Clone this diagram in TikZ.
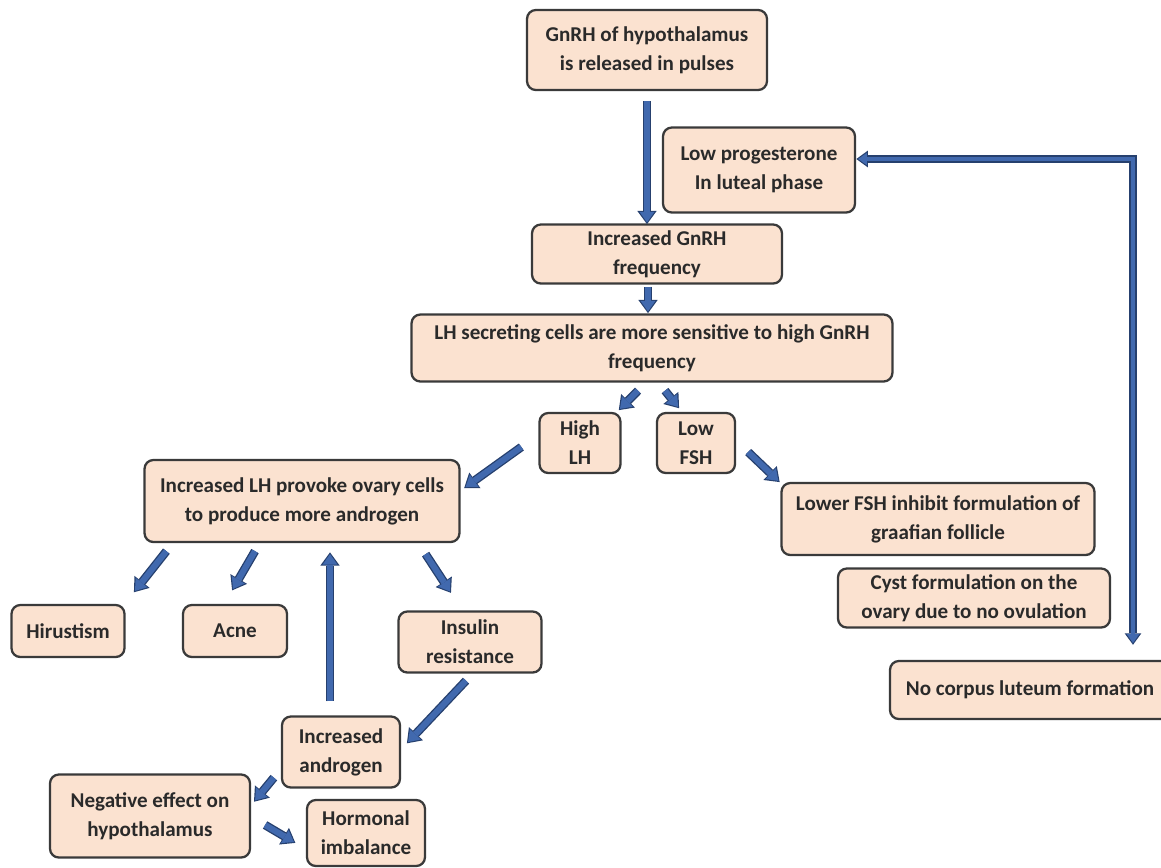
\documentclass[tikz,border=0pt]{standalone}
\usepackage{fontspec}
\setmainfont{Carlito}
\usepackage{xcolor}
\usepackage{tikz}
\usetikzlibrary{arrows.meta,calc}

\definecolor{boxfill}{HTML}{FBE2D0}
\definecolor{boxedge}{HTML}{3A3A3A}
\definecolor{textgray}{HTML}{2A2A2A}
\definecolor{arrowfill}{HTML}{4169AE}
\definecolor{arrowedge}{HTML}{26406E}

\tikzset{
  box/.style={draw=boxedge, fill=boxfill, rounded corners=5pt, line width=1.3pt,
    align=center, inner sep=0pt, text=textgray,
    font=\fontsize{12}{16.5}\selectfont\bfseries},
  blockarrow/.style={draw=arrowfill, line width=3.4pt,
    -{Triangle[length=6pt,width=8.5pt,line width=0pt]},
    preaction={draw=arrowedge, line width=4.9pt, shorten >=-1pt,
      -{Triangle[length=7.5pt,width=11pt,line width=0pt]}}},
  blockboth/.style={draw=arrowfill, line width=2.6pt,
    {Triangle[length=5pt,width=7pt,line width=0pt]}-{Triangle[length=5pt,width=7pt,line width=0pt]},
    preaction={draw=arrowedge, line width=4pt, shorten >=-1pt, shorten <=-1pt,
      {Triangle[length=6.5pt,width=9.5pt,line width=0pt]}-{Triangle[length=6.5pt,width=9.5pt,line width=0pt]}}}
}

\begin{document}
\begin{tikzpicture}[x=0.02cm,y=-0.02cm]

  % Page frame (pixel grid of the reference)
  \useasboundingbox (0,0) rectangle (1161,867);

  % Top chain
  \node[box, minimum width=4.8cm, minimum height=1.6cm] (gnrh) at (647,50)
    {GnRH of hypothalamus\\is released in pulses};
  \node[box, minimum width=3.84cm, minimum height=1.7cm] (lowprog) at (759,170)
    {Low progesterone\\In luteal phase};
  \node[box, minimum width=5.0cm, minimum height=1.18cm] (incgnrh) at (657,254)
    {Increased GnRH\\frequency};
  \node[box, minimum width=9.62cm, minimum height=1.34cm] (lhsec) at (652,348)
    {LH secreting cells are more sensitive to high GnRH\\frequency};

  % Split into LH / FSH
  \node[box, minimum width=1.62cm, minimum height=1.2cm] (highlh) at (580,443)
    {High\\LH};
  \node[box, minimum width=1.56cm, minimum height=1.2cm] (lowfsh) at (696,443)
    {Low\\FSH};

  % Left branch
  \node[box, minimum width=6.3cm, minimum height=1.64cm] (inclh) at (302,501)
    {Increased LH provoke ovary cells\\to produce more androgen};
  \node[box, minimum width=2.26cm, minimum height=1.04cm] (hirsut) at (68,631)
    {Hirustism};
  \node[box, minimum width=2.08cm, minimum height=1.04cm] (acne) at (235,631)
    {Acne};
  \node[box, minimum width=2.86cm, minimum height=1.22cm] (insulin) at (470,642)
    {Insulin\\resistance};
  \node[box, minimum width=2.36cm, minimum height=1.42cm] (incandro) at (341,752)
    {Increased\\androgen};
  \node[box, minimum width=4.0cm, minimum height=1.66cm] (negeff) at (150,816)
    {Negative effect on\\hypothalamus};
  \node[box, minimum width=2.36cm, minimum height=1.32cm] (hormonal) at (366,833)
    {Hormonal\\imbalance};

  % Right branch
  \node[box, minimum width=6.26cm, minimum height=1.44cm] (lowerfsh) at (938,519)
    {Lower FSH inhibit formulation of\\graafian follicle};
  \node[box, minimum width=5.44cm, minimum height=1.18cm] (cyst) at (974,598)
    {Cyst formulation on the\\ovary due to no ovulation};
  \node[box, minimum width=5.6cm, minimum height=1.16cm] (nocorpus) at (1030,690)
    {No corpus luteum formation};
  \coordinate (lutealend) at (1133,643);

  % Arrows
  \draw[blockarrow] ($(gnrh.south)+(0,10)$) -- ($(gnrh.south |- incgnrh.north)+(0,-1)$);
  \draw[blockarrow] ($(incgnrh.south)+(-9,2)$) -- ($(lhsec.north)+(-4,-2)$);
  \draw[blockarrow] ($(lhsec.south)+(-14,8)$) -- ($(highlh.north)+(40,-3)$);
  \draw[blockarrow] ($(lhsec.south)+(13,8)$) -- ($(lowfsh.north)+(-18,-5)$);
  \draw[blockarrow] ($(highlh.west)+(-17,4)$) -- ($(inclh.east)+(5,-14)$);
  \draw[blockarrow] ($(lowfsh.east)+(12,9)$) -- ($(lowerfsh.north west)+(-2,-1)$);
  \draw[blockarrow] ($(inclh.south west)+(23,8)$) -- ($(hirsut.north)+(67,-13)$);
  \draw[blockarrow] ($(inclh.south)+(-47,8)$) -- ($(acne.north)+(-2,-15)$);
  \draw[blockarrow] ($(inclh.south east)+(-35,11)$) -- ($(insulin.north)+(-20,-19)$);
  \draw[blockarrow] ($(insulin.south)+(-4,7)$) -- ($(incandro.east)+(7,-10)$);
  \draw[blockarrow] ($(incandro.north)+(-11,-14)$) -- ($(inclh.south)+(28,11)$);
  \draw[blockarrow] ($(incandro.south west)+(-7,-11)$) -- ($(negeff.north east)+(4,27)$);
  \draw[blockarrow] ($(negeff.east)+(14,9)$) -- ($(hormonal.west)+(-12,9)$);

  % Feedback loop to progesterone
  \draw[blockboth] ($(lowprog.east)+(2,-11)$) -| (lutealend);

\end{tikzpicture}
\end{document}
